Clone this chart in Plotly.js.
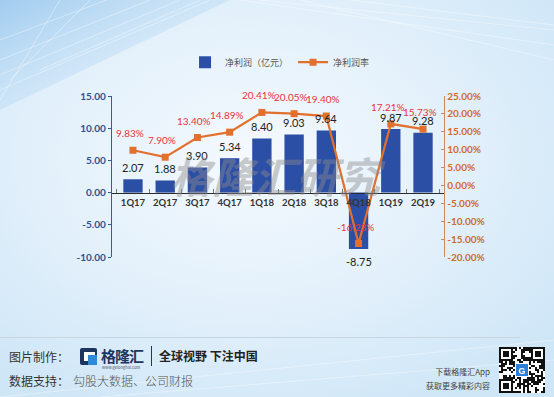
<!DOCTYPE html>
<html>
<head>
<meta charset="utf-8">
<script src="https://cdn.plot.ly/plotly-3.0.1.min.js"></script>
<style>
html,body{margin:0;padding:0;}
body{width:554px;height:397px;overflow:hidden;position:relative;
 background: radial-gradient(ellipse 70% 70% at 45% 40%, #f4f9fe 0%, #e4f1fb 50%, #cfe6f7 100%);
 font-family:"Noto Sans CJK SC","Noto Sans",sans-serif;}
#deco{position:absolute;left:0;top:0;width:554px;height:397px;}
#chart{position:absolute;left:0;top:0;width:554px;height:397px;}
.foot{position:absolute;color:#333;white-space:nowrap;}
</style>
</head>
<body>
<svg id="deco" width="554" height="397">
 <defs>
  <linearGradient id="tl" x1="0" y1="0" x2="1" y2="1">
   <stop offset="0" stop-color="#9cc9ee" stop-opacity="0.9"/>
   <stop offset="1" stop-color="#d9ecfa" stop-opacity="0"/>
  </linearGradient>
 </defs>
 <polygon points="0,0 230,0 0,110" fill="url(#tl)"/>
 <g stroke="#ffffff" stroke-opacity="0.55" stroke-width="0.7" fill="none">
  <line x1="0" y1="60" x2="150" y2="0"/>
  <line x1="0" y1="75" x2="180" y2="0"/>
  <line x1="0" y1="90" x2="210" y2="0"/>
  <line x1="0" y1="40" x2="120" y2="-5"/>
  <line x1="10" y1="80" x2="90" y2="0"/>
  <line x1="0" y1="100" x2="60" y2="0"/>
  <line x1="40" y1="70" x2="200" y2="0"/>
  <line x1="240" y1="0" x2="554" y2="45"/>
  <line x1="260" y1="0" x2="554" y2="30"/>
  <line x1="300" y1="0" x2="554" y2="60"/>
  <line x1="350" y1="0" x2="554" y2="25"/>
  <line x1="0" y1="397" x2="554" y2="340"/>
  <line x1="100" y1="397" x2="554" y2="360"/>
 </g>
</svg>
<div id="chart"></div>

<!-- footer -->
<div style="position:absolute;left:0;top:337px;width:520px;height:1px;background:#c8d6e2;"></div>
<div class="foot" style="left:9px;top:348px;font-size:12px;">图片制作：</div>
<div style="position:absolute;left:80px;top:348px;width:17px;height:17px;background:#1e3560;border-radius:2px;"></div>
<div style="position:absolute;left:84px;top:352px;width:11px;height:9px;background:#fff;"></div>
<div style="position:absolute;left:88px;top:355px;width:9px;height:10px;background:#2e8ad8;"></div>
<div class="foot" style="left:101px;top:345px;font-size:15px;font-weight:bold;color:#1e3560;letter-spacing:-1px;">格隆汇</div>
<div class="foot" style="left:102px;top:364px;font-size:4px;color:#556;">www.gelonghui.com</div>
<div style="position:absolute;left:151px;top:346px;width:1px;height:20px;background:#333;"></div>
<div class="foot" style="left:159px;top:347px;font-size:12px;font-weight:bold;color:#222;">全球视野 下注中国</div>
<div class="foot" style="left:9px;top:372px;font-size:12px;">数据支持：</div>
<div class="foot" style="left:73px;top:372px;font-size:12px;color:#555;font-family:'Noto Sans CJK SC';font-weight:300;">勾股大数据、公司财报</div>
<div class="foot" style="right:64px;top:366px;font-size:8px;color:#444;text-align:right;">下载格隆汇App</div>
<div class="foot" style="right:64px;top:380px;font-size:8px;color:#444;text-align:right;">获取更多精彩内容</div>
<canvas id="qr" width="46" height="46" style="position:absolute;left:499px;top:347px;background:#fff;"></canvas>

<script>
// ---- data ----
const quarters = ["1Q17","2Q17","3Q17","4Q17","1Q18","2Q18","3Q18","4Q18","1Q19","2Q19"];
const netProfit = [2.07, 1.88, 3.90, 5.34, 8.40, 9.03, 9.64, -8.75, 9.87, 9.28];
const netMargin = [9.83, 7.90, 13.40, 14.89, 20.41, 20.05, 19.40, -16.23, 17.21, 15.73];
const leftTicks = [-10, -5, 0, 5, 10, 15];
const rightTicks = [-20, -15, -10, -5, 0, 5, 10, 15, 20, 25];

const numFont = "Lato, 'Noto Sans', sans-serif";
const cjkFont = "'Noto Sans CJK SC', sans-serif";

const bars = {
  type: "bar", name: "净利润（亿元）", x: quarters, y: netProfit,
  marker: {color: "#2c4fa6"}, yaxis: "y", hoverinfo: "skip"
};
const line = {
  type: "scatter", mode: "lines+markers", name: "净利润率", x: quarters, y: netMargin,
  yaxis: "y2", line: {color: "#e26f2c", width: 2.2},
  marker: {symbol: "square", size: 7, color: "#e26f2c"}, hoverinfo: "skip"
};

const annotations = [];
quarters.forEach((q, i) => {
  const v = netProfit[i];
  annotations.push({
    x: q, y: v, xref: "x", yref: "y", text: v.toFixed(2), showarrow: false,
    yshift: v >= 0 ? 12 : -13, font: {family: numFont, size: 11, color: "#222"}
  });
  const m = netMargin[i];
  annotations.push({
    x: q, y: m, xref: "x", yref: "y2", text: m.toFixed(2) + "%", showarrow: false,
    yshift: 17, xshift: -3, font: {family: numFont, size: 10, color: "#e8333a"}
  });
});
annotations.push({
  x: 0.5, y: 0.51, xref: "paper", yref: "paper", text: "<i><b>格隆汇研究</b></i>", showarrow: false,
  font: {family: cjkFont, size: 42, color: "rgba(140,140,140,0.45)"}
});

const layout = {
  width: 554, height: 397,
  paper_bgcolor: "rgba(0,0,0,0)", plot_bgcolor: "rgba(0,0,0,0)",
  margin: {l: 112, r: 110, t: 96, b: 140},
  bargap: 0.4,
  showlegend: true,
  legend: {orientation: "h", x: 0.22, xanchor: "left", y: 1.21, yanchor: "middle",
           font: {family: cjkFont, size: 9, color: "#555"}, bgcolor: "rgba(0,0,0,0)",
           itemwidth: 30, traceorder: "normal"},
  xaxis: {
    type: "category", anchor: "free", position: 0.4,
    showline: true, linecolor: "#2b2b2b", linewidth: 1.5,
    ticks: "inside", ticklen: 4, tickcolor: "#777", tickson: "boundaries",
    tickangle: 0, automargin: false,
    tickfont: {family: numFont, size: 9.5, color: "#333", weight: "bold"},
    showgrid: false, zeroline: false, fixedrange: true
  },
  yaxis: {
    range: [-10, 15], tickvals: leftTicks, ticktext: leftTicks.map(v => v.toFixed(2)),
    showline: true, linecolor: "#3a5a9a", linewidth: 1.2,
    ticks: "outside", ticklen: 3, tickcolor: "#3a5a9a",
    tickfont: {family: numFont, size: 10, color: "#2d4f8e", weight: "bold"},
    showgrid: false, zeroline: false
  },
  yaxis2: {
    range: [-20, 25], overlaying: "y", side: "right",
    tickvals: rightTicks, ticktext: rightTicks.map(v => v.toFixed(2) + "%"),
    showline: true, linecolor: "#c98a5e", linewidth: 1.2,
    ticks: "inside", ticklen: 3, tickcolor: "#c98a5e",
    tickfont: {family: numFont, size: 10, color: "#d0692a", weight: "bold"},
    showgrid: false, zeroline: false
  },
  annotations: annotations
};

Plotly.newPlot("chart", [bars, line], layout, {displayModeBar: false, staticPlot: true});

// decorative QR-like block
(function(){
  const c = document.getElementById("qr").getContext("2d");
  const n = 23, s = 2;
  let seed = 7;
  function r(){ seed = (seed * 1103515245 + 12345) & 0x7fffffff; return seed / 0x7fffffff; }
  for (let i = 0; i < n; i++) for (let j = 0; j < n; j++) {
    if (r() > 0.5) { c.fillStyle = "#111"; c.fillRect(i*s, j*s, s, s); }
  }
  function finder(x, y){
    c.fillStyle="#111"; c.fillRect(x,y,14,14);
    c.fillStyle="#fff"; c.fillRect(x+2,y+2,10,10);
    c.fillStyle="#111"; c.fillRect(x+4,y+4,6,6);
  }
  finder(0,0); finder(32,0); finder(0,32);
  c.fillStyle="#fff"; c.fillRect(16,16,14,14);
  c.fillStyle="#2e7fd8"; c.fillRect(17,17,12,12);
  c.fillStyle="#fff"; c.font="bold 9px sans-serif"; c.fillText("G",19.5,26.5);
})();
</script>
</body>
</html>
